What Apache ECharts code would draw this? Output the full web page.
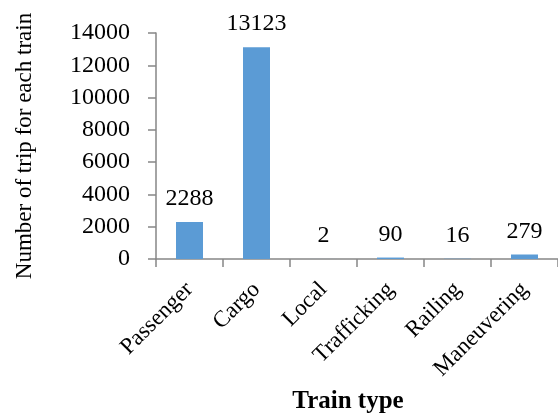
<!DOCTYPE html>
<html>
<head>
<meta charset="utf-8">
<script src="https://cdn.jsdelivr.net/npm/echarts@6/dist/echarts.min.js"></script>
<style>
  html, body { margin: 0; padding: 0; background: #ffffff; }
  #chart { width: 558px; height: 419px; }
</style>
</head>
<body>
<div id="chart"></div>
<script>
// Trip counts per train type
const categories = ['Passenger', 'Cargo', 'Local', 'Trafficking', 'Railing', 'Maneuvering'];
const trips = [2288, 13123, 2, 90, 16, 279];
const yTicks = { min: 0, max: 14000, interval: 2000 };

const serif = '"Liberation Serif", "Times New Roman", serif';
const axisGray = '#868686';

const chart = echarts.init(document.getElementById('chart'));
chart.setOption({
  animation: false,
  backgroundColor: '#ffffff',
  grid: { left: 156, right: 0, top: 33, bottom: 158, containLabel: false },
  xAxis: {
    type: 'category',
    data: categories,
    name: 'Train type',
    nameLocation: 'middle',
    nameGap: 130,
    nameTextStyle: {
      fontFamily: serif, fontSize: 25, fontWeight: 'bold', color: '#000',
      padding: [0, 18, 0, 0]
    },
    axisLine: { lineStyle: { color: axisGray, width: 1.5 } },
    axisTick: { show: true, alignWithLabel: false, length: 8, lineStyle: { color: axisGray, width: 1.5 } },
    axisLabel: {
      rotate: 45, margin: 27, interval: 0,
      fontFamily: serif, fontSize: 23, color: '#000'
    }
  },
  yAxis: {
    type: 'value',
    min: yTicks.min, max: yTicks.max, interval: yTicks.interval,
    name: 'Number of trip for each train',
    nameLocation: 'middle',
    nameGap: 120,
    nameTextStyle: { fontFamily: serif, fontSize: 23, color: '#000' },
    splitLine: { show: false },
    axisLine: { show: true, lineStyle: { color: axisGray, width: 1.5 } },
    axisTick: { show: true, length: 8, lineStyle: { color: axisGray, width: 1.5 } },
    axisLabel: {
      margin: 26, fontFamily: serif, fontSize: 24, color: '#000',
      formatter: (v) => String(v)
    }
  },
  series: [{
    type: 'bar',
    data: trips,
    barWidth: 27,
    itemStyle: { color: '#5B9BD5' },
    label: {
      show: true, position: 'top', distance: 11,
      fontFamily: serif, fontSize: 24, color: '#000'
    }
  }]
});
</script>
</body>
</html>
